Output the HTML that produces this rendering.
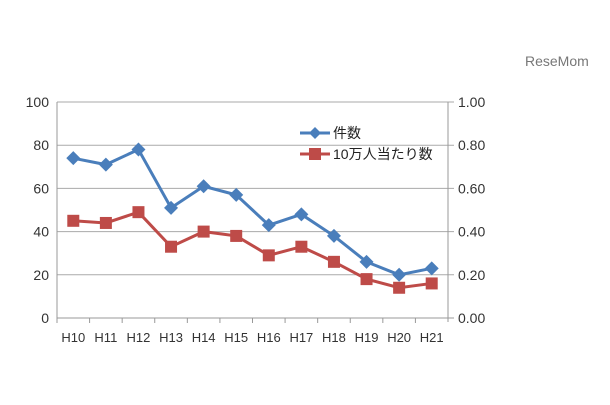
<!DOCTYPE html>
<html><head><meta charset="utf-8"><style>
body{margin:0;background:#fff;width:610px;height:400px;overflow:hidden;font-family:"Liberation Sans","Noto Sans CJK JP",sans-serif}
</style></head><body>
<svg width="610" height="400">
<text x="525" y="66" font-size="14" fill="#777">ReseMom</text>
<g id="g"></g>
</svg>
<script>
const categories=["H10","H11","H12","H13","H14","H15","H16","H17","H18","H19","H20","H21"];
const countValues=[74,71,78,51,61,57,43,48,38,26,20,23];
const rateValues=[0.45,0.44,0.49,0.33,0.40,0.38,0.29,0.33,0.26,0.18,0.14,0.16];
const leftTicks=[0,20,40,60,80,100];
const rightTicks=["0.00","0.20","0.40","0.60","0.80","1.00"];
const NS="http://www.w3.org/2000/svg",g=document.getElementById('g');
const X0=57,X1=448,Y0=318,Y1=102;
const xs=i=>X0+(X1-X0)*(i+0.5)/categories.length;
const yl=v=>Y0-(Y0-Y1)*v/100;
const yr=v=>Y0-(Y0-Y1)*v/1;
function mk(t,a,txt){const e=document.createElementNS(NS,t);for(const k in a)e.setAttribute(k,a[k]);if(txt!=null)e.textContent=txt;g.appendChild(e);return e;}
leftTicks.forEach((v,i)=>{const y=yl(v);
 const l=mk('line',{x1:X0,x2:X1+6,y1:y,y2:y,stroke:v==0?'#999':'#aaa','stroke-width':1});
 
 
 const t=mk('text',{x:X0-8,y:y+5,'text-anchor':'end','font-size':14,fill:'#333'},v);
 
 
 const r=mk('text',{x:X1+10,y:y+5,'font-size':14,fill:'#333'},rightTicks[i]);
 
 
});
mk('line',{x1:X0,x2:X0,y1:Y1,y2:Y0+4,stroke:'#999'});
mk('line',{x1:X1,x2:X1,y1:Y1,y2:Y0+4,stroke:'#999'});
categories.forEach((c,i)=>{
 mk('line',{x1:X0+(X1-X0)*i/categories.length,x2:X0+(X1-X0)*i/categories.length,y1:Y0,y2:Y0+5,stroke:'#999'});
 const t=mk('text',{x:xs(i),y:Y0+24,'text-anchor':'middle','font-size':13,fill:'#333'},c);
 
 
});
const bp=mk('polyline',{points:countValues.map((v,i)=>xs(i)+','+yl(v)).join(' '),fill:'none',stroke:'#4a7ebb','stroke-width':3});


const rp=mk('polyline',{points:rateValues.map((v,i)=>xs(i)+','+yr(v)).join(' '),fill:'none',stroke:'#be4b48','stroke-width':3});


countValues.forEach((v,i)=>{const x=xs(i),y=yl(v);
 const p=mk('polygon',{points:`${x},${y-7} ${x+7},${y} ${x},${y+7} ${x-7},${y}`,fill:'#4a7ebb'});
 
 
});
rateValues.forEach((v,i)=>{const x=xs(i),y=yr(v);
 const p=mk('rect',{x:x-6,y:y-6,width:12,height:12,fill:'#be4b48'});
 
 
});
mk('line',{x1:300,x2:330,y1:133,y2:133,stroke:'#4a7ebb','stroke-width':3});
mk('polygon',{points:'315,127 321,133 315,139 309,133',fill:'#4a7ebb'});
const l1=mk('text',{x:333,y:138,'font-size':14,fill:'#222'},'件数');


mk('line',{x1:300,x2:330,y1:154,y2:154,stroke:'#be4b48','stroke-width':3});
mk('rect',{x:309,y:148,width:12,height:12,fill:'#be4b48'});
const l2=mk('text',{x:333,y:159,'font-size':14,fill:'#222'},'10万人当たり数');


</script>
</body></html>
